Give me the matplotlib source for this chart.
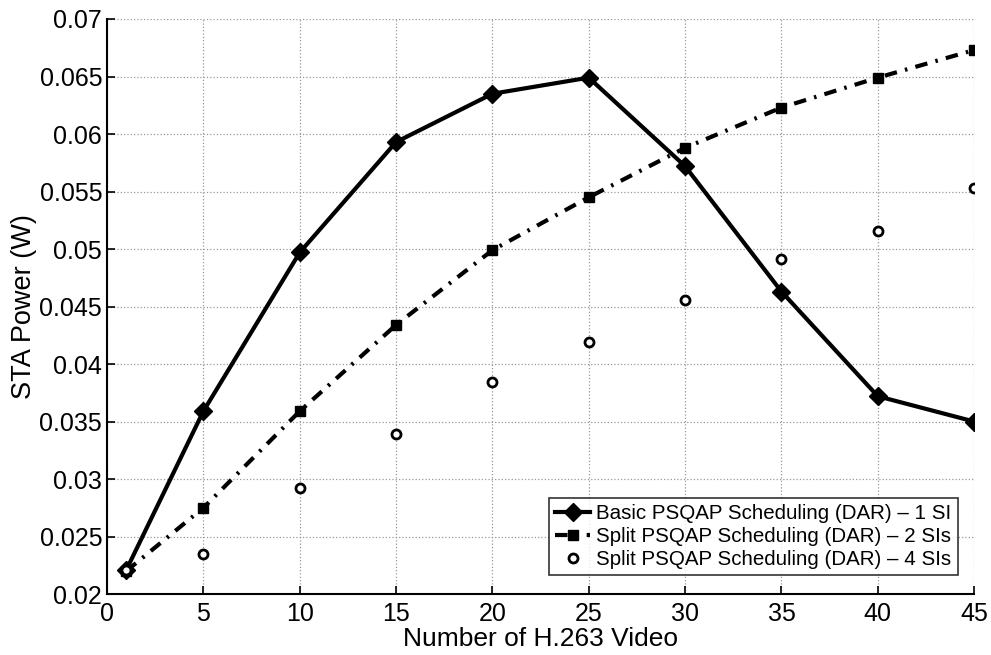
import matplotlib
matplotlib.use('Agg')
import matplotlib.pyplot as plt
from matplotlib import rcParams

rcParams['font.family'] = ['Liberation Sans', 'DejaVu Sans']

# data
videos = [1, 5, 10, 15, 20, 25, 30, 35, 40, 45]
basic_1si = [0.0221, 0.0359, 0.0497, 0.0593, 0.0635, 0.0649, 0.0572, 0.0463, 0.0372, 0.0350]
split_2si = [0.0220, 0.0275, 0.0359, 0.0434, 0.0499, 0.0545, 0.0588, 0.0623, 0.0649, 0.0673]
split_4si = [0.0221, 0.0235, 0.0292, 0.0339, 0.0384, 0.0419, 0.0456, 0.0491, 0.0516, 0.0553]

labels = ["Basic PSQAP Scheduling (DAR) \u2013 1 SI",
          "Split PSQAP Scheduling (DAR) \u2013 2 SIs",
          "Split PSQAP Scheduling (DAR) \u2013 4 SIs"]

fig = plt.figure(figsize=(9.91, 6.55), dpi=100)
ax = fig.add_axes([0.108, 0.093, 0.875, 0.878])

ax.plot(videos, basic_1si, color='black', linestyle='-', linewidth=3,
        marker='D', markersize=9, label=labels[0])
ax.plot(videos, split_2si, color='black', linestyle=(0, (3, 2, 0.6, 2)), linewidth=3,
        marker='s', markersize=7, label=labels[1])
ax.plot(videos, split_4si, color='black', linestyle='none',
        marker='o', markersize=6.5, markerfacecolor='white', markeredgewidth=2,
        label=labels[2])

ax.set_xlim(0, 45)
ax.set_ylim(0.02, 0.07)
ax.set_xticks(range(0, 46, 5))
ax.set_yticks([0.02, 0.025, 0.03, 0.035, 0.04, 0.045, 0.05, 0.055, 0.06, 0.065, 0.07])
ax.set_yticklabels(['0.02', '0.025', '0.03', '0.035', '0.04', '0.045', '0.05',
                    '0.055', '0.06', '0.065', '0.07'])

ax.grid(True, linestyle=':', color='#999999', linewidth=0.9)
ax.spines['top'].set_visible(False)
ax.spines['right'].set_visible(False)
ax.spines['left'].set_linewidth(1.5)
ax.spines['bottom'].set_linewidth(1.5)
ax.tick_params(direction='in', labelsize=18, length=6, width=1.2)
ax.tick_params(axis='x', pad=6)

ax.set_xlabel("Number of H.263 Video", fontsize=19, labelpad=0.5)
ax.set_ylabel("STA Power (W)", fontsize=19.5, labelpad=2)

leg = ax.legend(loc='lower right', bbox_to_anchor=(0.981, 0.033), fontsize=14.8,
                frameon=True, fancybox=False, edgecolor='black',
                handlelength=1.7, handletextpad=0.3, borderpad=0.3,
                labelspacing=0.2, borderaxespad=0.0)
leg.get_frame().set_linewidth(1.2)

fig.savefig('out.png', dpi=100)
